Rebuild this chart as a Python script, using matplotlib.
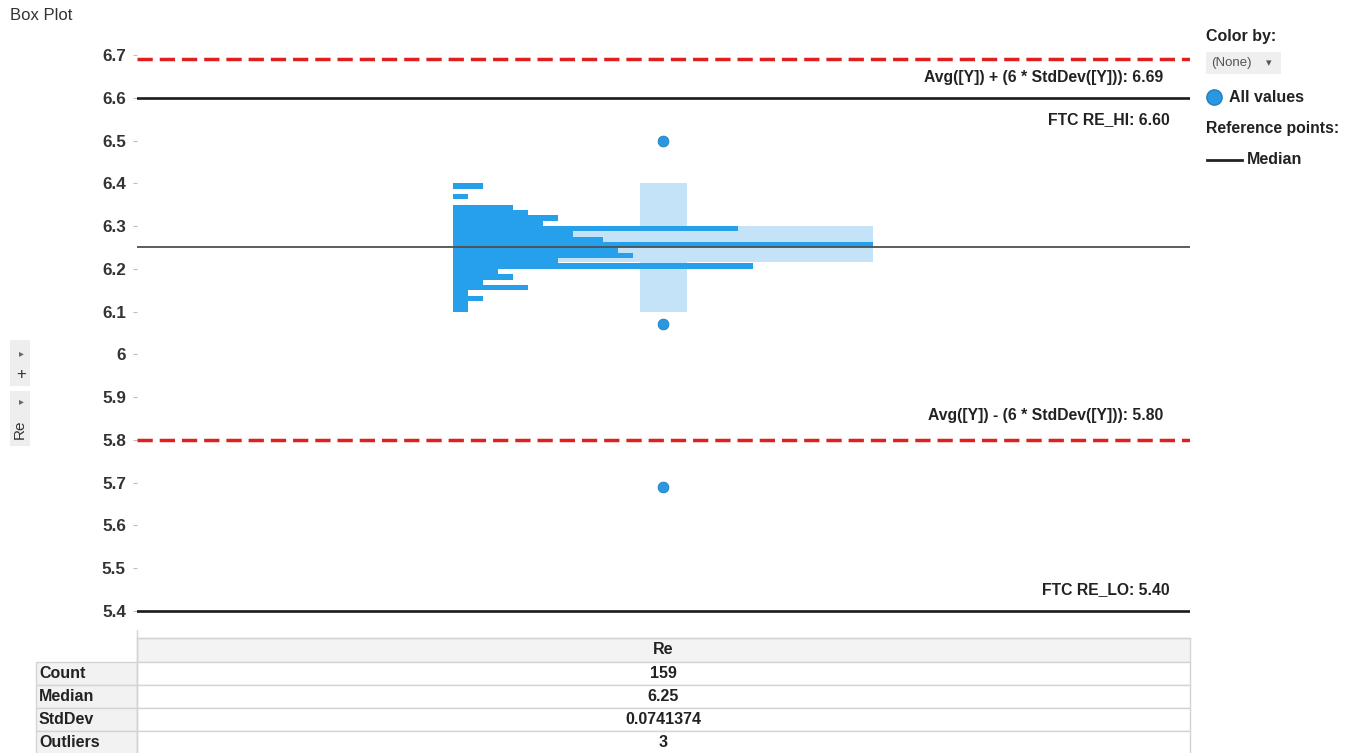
import numpy as np
import matplotlib.pyplot as plt
from matplotlib.patches import Rectangle
from matplotlib.lines import Line2D

plt.rcParams['font.family'] = ['Liberation Sans', 'DejaVu Sans']

# histogram bins (top to bottom), 0.0125 wide, from 6.40 down to 6.10
bin_top = 6.40
bin_width = 0.0125
counts = [2, 0, 1, 0, 4, 5, 7, 6, 19, 8, 10, 28, 11, 12, 7, 20, 3, 4, 2, 5, 1, 2, 1, 1]

median = 6.25
q1, q3 = 6.215, 6.30
whisker_lo, whisker_hi = 6.10, 6.40
outliers = [6.50, 6.07, 5.69]

ref_lines = [6.69, 6.60, 5.80, 5.40]
ref_labels = ["Avg([Y]) + (6 * StdDev([Y])): 6.69", "FTC RE_HI: 6.60",
              "Avg([Y]) - (6 * StdDev([Y])): 5.80", "FTC RE_LO: 5.40"]

yticks = [5.4, 5.5, 5.6, 5.7, 5.8, 5.9, 6.0, 6.1, 6.2, 6.3, 6.4, 6.5, 6.6, 6.7]
ytick_labels = ["5.4", "5.5", "5.6", "5.7", "5.8", "5.9", "6", "6.1", "6.2", "6.3", "6.4", "6.5", "6.6", "6.7"]

stat_names = ["Count", "Median", "StdDev", "Outliers"]
stat_values = ["159", "6.25", "0.0741374", "3"]

W, H = 1354, 753
fig = plt.figure(figsize=(W / 100, H / 100), dpi=100)


def fx(x):
    return x / W


def fy(y):
    return 1 - y / H


# axes placed so 6.7 -> y=55px, 5.4 -> y=611px
ylo, yhi = 5.345, 6.758
ppu = (611 - 55) / 1.3
top_px = 55 - (yhi - 6.7) * ppu
bot_px = 611 + (5.4 - ylo) * ppu
ax = fig.add_axes([fx(137), fy(bot_px), fx(1190) - fx(137), (bot_px - top_px) / H])
ax.set_ylim(ylo, yhi)
ax.set_xlim(-21.07, 49.13)

blue = "#26a0ea"
light = "#c4e3f9"
txt = "#222222"

# boxes behind histogram
box_c = 14.0
ax.add_patch(Rectangle((box_c - 1.57, whisker_lo), 3.14, whisker_hi - whisker_lo,
                       facecolor=light, edgecolor="none", zorder=1))
ax.add_patch(Rectangle((0, q1), max(counts), q3 - q1,
                       facecolor=light, edgecolor="none", zorder=1))

# histogram
bottoms = [bin_top - (i + 1) * bin_width for i in range(len(counts))]
ax.barh(bottoms, counts, height=bin_width, align="edge", color=blue, edgecolor="none", zorder=2)

# median line
ax.axhline(median, color="#505050", lw=1.3, zorder=3)

# outliers
ax.scatter([box_c] * len(outliers), outliers, s=60, color="#2a98e0", edgecolor="#1f7fc0", lw=0.6, zorder=4)

# reference lines
for v, c in zip(ref_lines, ["#e01f1f", "#1a1a1a", "#e01f1f", "#1a1a1a"]):
    if c == "#e01f1f":
        ax.axhline(v, color=c, lw=2.5, ls=(0, (4.4, 2.0)), zorder=3)
    else:
        ax.axhline(v, color=c, lw=1.9, zorder=3)

lab_off = [-0.042, -0.052, 0.056, 0.051]
lab_x = [1163, 1170, 1163, 1170]
for v, t, off, xx in zip(ref_lines, ref_labels, lab_off, lab_x):
    fig.text(fx(xx), fy(55 + (6.7 - (v + off)) * ppu), t, ha="right", va="center",
             fontsize=11.3, fontweight="bold", color=txt)

ax.set_yticks(yticks)
ax.set_yticklabels(ytick_labels, fontsize=12.3, fontweight="bold", color="#333333")
ax.tick_params(axis="y", length=3, color="#bbbbbb", pad=5)
ax.set_xticks([])
for s in ["top", "right", "bottom", "left"]:
    ax.spines[s].set_visible(False)

# title
fig.text(fx(10), fy(16), "Box Plot", ha="left", va="center", fontsize=12, color="#333333")

# left widgets
for (y0, y1) in [(340, 386), (391, 446)]:
    fig.add_artist(Rectangle((fx(10), fy(y1)), fx(30) - fx(10), (y1 - y0) / H,
                             facecolor="#eeeeee", edgecolor="none"))
fig.text(fx(21), fy(353), "▸", ha="center", va="center", fontsize=7, color="#666666")
fig.text(fx(21), fy(374), "+", ha="center", va="center", fontsize=12, color="#333333")
fig.text(fx(21), fy(401), "▸", ha="center", va="center", fontsize=7, color="#666666")
fig.text(fx(20), fy(429), "Re", ha="center", va="center", fontsize=11, rotation=90, color="#333333")

# legend
fig.text(fx(1206), fy(37), "Color by:", ha="left", va="center", fontsize=11.5, fontweight="bold", color=txt)
fig.add_artist(Rectangle((fx(1206), fy(74)), fx(1281) - fx(1206), 22 / H,
                         facecolor="#efefef", edgecolor="none"))
fig.text(fx(1211), fy(63), "(None)", ha="left", va="center", fontsize=9.5, color="#555555")
fig.text(fx(1269), fy(63), "▾", ha="center", va="center", fontsize=8, color="#555555")
fig.add_artist(Line2D([fx(1214)], [fy(97)], marker="o", markersize=11, color="#2a98e0", markeredgecolor="#1f7fc0"))
fig.text(fx(1229), fy(97), "All values", ha="left", va="center", fontsize=11.5, fontweight="bold", color=txt)
fig.text(fx(1206), fy(128), "Reference points:", ha="left", va="center", fontsize=11.3, fontweight="bold", color=txt)
fig.add_artist(Line2D([fx(1207), fx(1242)], [fy(160), fy(160)], color=txt, lw=2))
fig.text(fx(1247), fy(160), "Median", ha="left", va="center", fontsize=11.5, fontweight="bold", color=txt)

# summary table
grid = "#d4d4d4"
fig.add_artist(Line2D([fx(137), fx(1190)], [fy(638), fy(638)], color=grid, lw=1))
fig.add_artist(Rectangle((fx(137), fy(662)), fx(1190) - fx(137), 24 / H,
                         facecolor="#f3f3f3", edgecolor=grid, lw=1))
fig.text(fx(663), fy(650), "Re", ha="center", va="center", fontsize=11.5, fontweight="bold", color=txt)
fig.add_artist(Line2D([fx(137), fx(137)], [fy(630), fy(753)], color=grid, lw=1))
row_h = 23
for i, (name, val) in enumerate(zip(stat_names, stat_values)):
    y0 = 662 + i * row_h
    fig.add_artist(Rectangle((fx(36), fy(y0 + row_h)), fx(137) - fx(36), row_h / H,
                             facecolor="#f2f2f2", edgecolor=grid, lw=1))
    fig.add_artist(Rectangle((fx(137), fy(y0 + row_h)), fx(1190) - fx(137), row_h / H,
                             facecolor="white", edgecolor=grid, lw=1))
    fig.text(fx(39), fy(y0 + row_h / 2), name, ha="left", va="center", fontsize=11.5,
             fontweight="bold", color=txt)
    fig.text(fx(663), fy(y0 + row_h / 2), val, ha="center", va="center", fontsize=11.5,
             fontweight="bold", color=txt)

fig.savefig("out.png", dpi=100)
